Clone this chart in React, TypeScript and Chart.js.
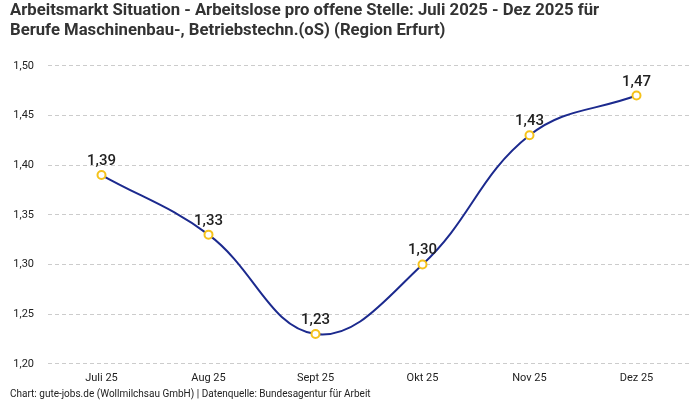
import { useEffect, useRef } from 'react';
import { Chart, registerables } from 'chart.js';

Chart.register(...registerables);

const months = ['Juli 25', 'Aug 25', 'Sept 25', 'Okt 25', 'Nov 25', 'Dez 25'];
const ratio = [1.39, 1.33, 1.23, 1.30, 1.43, 1.47];
const yMin = 1.2;
const yMax = 1.5;
const yStep = 0.05;

const fmt = (v: number) => v.toFixed(2).replace('.', ',');

const valueLabels = {
  id: 'valueLabels',
  afterDatasetsDraw(chart: Chart) {
    const ctx = chart.ctx;
    const meta = chart.getDatasetMeta(0);
    ctx.save();
    ctx.font = '500 15px Roboto, sans-serif';
    ctx.fillStyle = '#222';
    ctx.textAlign = 'center';
    ctx.textBaseline = 'alphabetic';
    meta.data.forEach((pt, i) => {
      ctx.fillText(fmt(ratio[i]), pt.x, pt.y - 10);
    });
    ctx.restore();
  },
};

export default function App() {
  const canvasRef = useRef<HTMLCanvasElement>(null);
  const chartRef = useRef<Chart | null>(null);

  useEffect(() => {
    document.body.style.margin = '0';
    if (!canvasRef.current) return;
    const ctx = canvasRef.current.getContext('2d');
    if (!ctx) return;

    chartRef.current?.destroy();
    chartRef.current = new Chart(ctx, {
      type: 'line',
      data: {
        labels: months,
        datasets: [{
          label: 'Arbeitslose pro offene Stelle',
          data: ratio,
          borderColor: '#1c2a8e',
          borderWidth: 2,
          tension: 0.4,
          pointRadius: 4,
          pointBorderWidth: 2,
          pointBackgroundColor: '#ffffff',
          pointBorderColor: '#f5c21b',
          fill: false,
        }],
      },
      options: {
        animation: false,
        responsive: true,
        maintainAspectRatio: false,
        layout: { padding: { left: 2, right: 10, top: 0, bottom: 0 } },
        plugins: {
          legend: { display: false },
          tooltip: { enabled: false },
          title: {
            display: true,
            align: 'start',
            text: [
              'Arbeitsmarkt Situation - Arbeitslose pro offene Stelle: Juli 2025 - Dez 2025 für',
              'Berufe Maschinenbau-, Betriebstechn.(oS) (Region Erfurt)',
            ],
            color: '#333',
            font: { family: 'Roboto, sans-serif', size: 16.7, weight: 'bold', lineHeight: 1.25 },
            padding: { top: 0, bottom: 24 },
          },
          subtitle: {
            display: true,
            position: 'bottom',
            align: 'start',
            text: 'Chart: gute-jobs.de (Wollmilchsau GmbH) | Datenquelle: Bundesagentur für Arbeit',
            color: '#222',
            font: { family: 'Roboto, sans-serif', size: 10 },
            padding: { top: 3, bottom: 0 },
          },
        },
        scales: {
          x: {
            offset: true,
            grid: { display: false },
            border: { display: false },
            ticks: { color: '#222', font: { family: 'Roboto, sans-serif', size: 11 }, padding: 0 },
          },
          y: {
            min: yMin,
            max: yMax,
            afterFit: (scale) => { scale.width = 38; },
            grid: { color: '#cccccc', drawTicks: false },
            border: { display: false, dash: [4, 3] },
            ticks: {
              stepSize: yStep,
              color: '#222',
              padding: 14,
              font: { family: 'Roboto, sans-serif', size: 11 },
              callback: (v) => fmt(Number(v)),
            },
          },
        },
      },
      plugins: [valueLabels],
    });

    return () => { chartRef.current?.destroy(); };
  }, []);

  return (
    <div style={{ position: 'relative', width: 700, height: 400, padding: '0 0 0 8px', boxSizing: 'border-box' }}>
      <canvas ref={canvasRef} />
    </div>
  );
}
